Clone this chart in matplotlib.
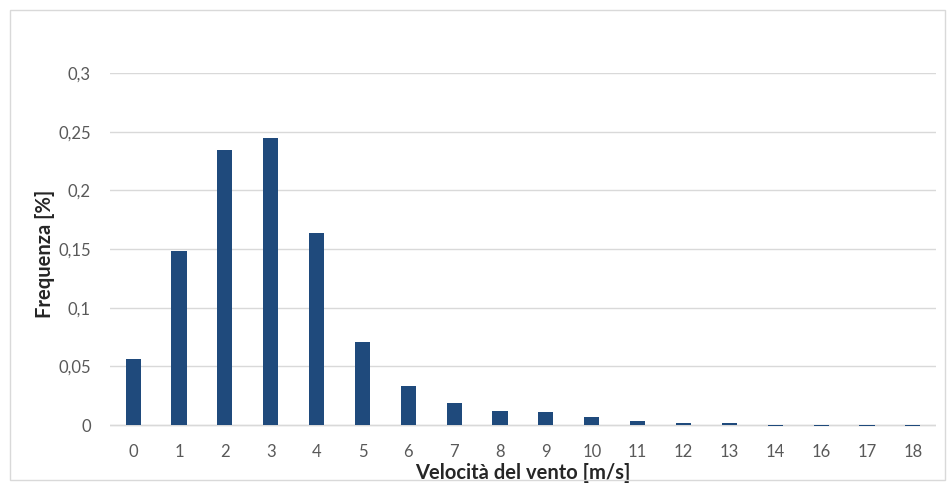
import matplotlib.pyplot as plt
from matplotlib.patches import Rectangle

categories = ["0", "1", "2", "3", "4", "5", "6", "7", "8", "9",
              "10", "11", "12", "13", "14", "16", "17", "18"]
frequenza = [0.056, 0.148, 0.234, 0.245, 0.164, 0.071, 0.033, 0.019, 0.012,
             0.011, 0.007, 0.0035, 0.0015, 0.0015, -0.001, -0.001, -0.001, -0.001]
yticks = [0, 0.05, 0.1, 0.15, 0.2, 0.25, 0.3]
ylabels = ["0", "0,05", "0,1", "0,15", "0,2", "0,25", "0,3"]

plt.rcParams['font.family'] = ['Lato', 'DejaVu Sans']

fig = plt.figure(figsize=(9.5, 4.84), dpi=100)
fig.patches.append(Rectangle((0.01, 0.008), 0.985, 0.972, transform=fig.transFigure,
                             fill=False, edgecolor='#d9d9d9', linewidth=1))

ax = fig.add_axes([0.116, 0.1025, 0.869, 0.7467])
x = range(len(categories))
ax.bar(x, frequenza, width=0.33, color='#1F4A7C', zorder=3)

ax.set_xlim(-0.5, len(categories) - 0.5)
ax.set_ylim(-0.008, 0.3)
ax.set_yticks(yticks)
ax.set_yticklabels(ylabels)
ax.set_xticks(list(x))
ax.set_xticklabels(categories)
ax.grid(axis='y', color='#d9d9d9', linewidth=1, zorder=0)
ax.axhline(0, color='#d9d9d9', linewidth=1, zorder=2)
for s in ax.spines.values():
    s.set_visible(False)
ax.tick_params(axis='both', length=0, labelsize=12, labelcolor='#595959')
ax.tick_params(axis='y', pad=14)
ax.tick_params(axis='x', pad=7)

ax.set_ylabel("Frequenza [%]", fontsize=14.5, fontweight='bold', color='#262626', labelpad=2)
ax.set_xlabel("Velocità del vento [m/s]", fontsize=14.5, fontweight='bold', color='#262626', labelpad=2)

fig.savefig("out.png", dpi=100)
